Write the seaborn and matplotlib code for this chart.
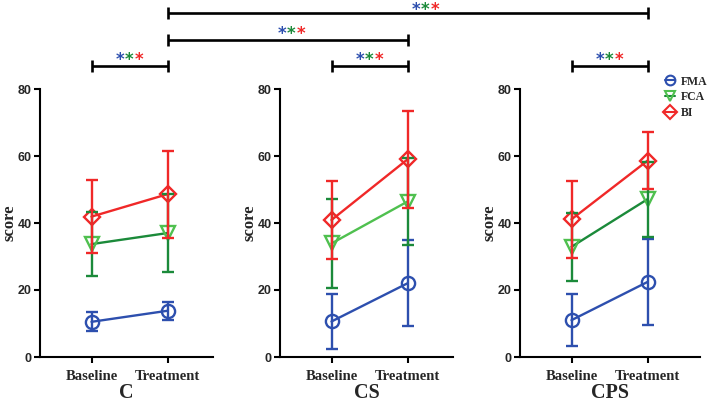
import pandas as pd
import seaborn as sns
import matplotlib.pyplot as plt
from matplotlib.lines import Line2D

times = ["Baseline", "Treatment"]
groups = ["C", "CS", "CPS"]
measures = ["FMA", "FCA", "BI"]

# mean / sd for (Baseline, Treatment)
fma_mean = {"C": [10.5, 13.8], "CS": [10.6, 22.0], "CPS": [11.0, 22.4]}
fma_sd = {"C": [2.8, 2.7], "CS": [8.3, 12.8], "CPS": [7.7, 12.7]}
fca_mean = {"C": [33.7, 37.0], "CS": [33.9, 46.4], "CPS": [32.9, 47.1]}
fca_sd = {"C": [9.6, 11.7], "CS": [13.3, 12.9], "CPS": [10.2, 11.2]}
bi_mean = {"C": [41.9, 48.6], "CS": [40.9, 59.0], "CPS": [41.1, 58.6]}
bi_sd = {"C": [10.9, 13.0], "CS": [11.7, 14.4], "CPS": [11.4, 8.5]}

means = {"FMA": fma_mean, "FCA": fca_mean, "BI": bi_mean}
sds = {"FMA": fma_sd, "FCA": fca_sd, "BI": bi_sd}

blue = "#2d4fae"
dgreen = "#1b8a3a"
lgreen = "#4fc04f"
red = "#f02828"
bar_colors = {"FMA": blue, "FCA": dgreen, "BI": red}
mark_colors = {"FMA": blue, "FCA": lgreen, "BI": red}
markers = {"FMA": "o", "FCA": "v", "BI": "D"}
msizes = {"FMA": 9.5, "FCA": 9.5, "BI": 8}

sns.set_theme(style="ticks")
plt.rcParams["font.family"] = ["Liberation Serif", "DejaVu Serif"]

W, H = 707, 403
fig = plt.figure(figsize=(W / 100, H / 100), dpi=100)

axes_px = [(40, 173), (280, 173), (520, 180)]  # left, width in px
bottom_px, top_px = 357, 89

axes = []
for g, (lx, wx) in zip(groups, axes_px):
    ax = fig.add_axes([lx / W, 1 - bottom_px / H, wx / W, (bottom_px - top_px) / H])
    axes.append(ax)

    rows = []
    for m in measures:
        for i, t in enumerate(times):
            rows.append({"x": i, "score": means[m][g][i], "measure": m})
    df = pd.DataFrame(rows)

    line_pal = {"FMA": blue, "FCA": lgreen if g == "CS" else dgreen, "BI": red}
    sns.lineplot(data=df, x="x", y="score", hue="measure", style="measure",
                 hue_order=measures, style_order=measures, palette=line_pal,
                 markers=markers, dashes=False, linewidth=1.7, markersize=9,
                 markeredgewidth=1.7, mfc="none", legend=False, ax=ax)
    for ln, m in zip(ax.lines, measures):
        ln.set_markeredgecolor(mark_colors[m])
        ln.set_markersize(msizes[m])

    for m in measures:
        ax.errorbar([0, 1], means[m][g], yerr=sds[m][g], fmt="none",
                    ecolor=bar_colors[m], elinewidth=1.7, capsize=4.3,
                    capthick=1.7, clip_on=False)

    unit = 76.0
    ax.set_xlim(-51.5 / unit, (wx - 51.5) / unit)
    ax.set_ylim(0, 80)
    ax.set_yticks([0, 20, 40, 60, 80])
    ax.set_xticks([0, 1])
    ax.set_xticklabels(times, fontsize=10.5, fontweight="bold")
    for lab in ax.get_yticklabels():
        lab.set_fontfamily("Liberation Sans")
        lab.set_fontweight("bold")
        lab.set_fontsize(9)
    ax.set_ylabel("score", fontsize=12, fontweight="bold", labelpad=0)
    ax.set_xlabel(g, fontsize=14.5, fontweight="bold", labelpad=0)
    sns.despine(ax=ax)
    for s in ["left", "bottom"]:
        ax.spines[s].set_linewidth(1.5)
        ax.spines[s].set_color("black")
    ax.tick_params(width=1.5, length=4, color="black", pad=2)
    ax.tick_params(axis="x", pad=5)

# legend
handles = [Line2D([], [], color=bar_colors[m], marker=markers[m], mfc="none",
                  mec=mark_colors[m], mew=1.5, ms=7, lw=1.5) for m in measures]
fig.legend(handles, measures, loc="upper left", bbox_to_anchor=(654 / W, 1 - 65 / H),
           frameon=False, handlelength=0.9, handletextpad=0.5, labelspacing=0.3,
           prop={"family": "Liberation Serif", "weight": "bold", "size": 8.5})

# significance brackets
fig.canvas.draw()


def fig_x(ax, xv):
    d = ax.transData.transform((xv, 0))
    return fig.transFigure.inverted().transform(d)[0]


# (start, end, line y from top in px, star x shift px, star baseline y from top px)
brackets = [((axes[0], 0), (axes[0], 1), 66, 0, 65.5), ((axes[1], 0), (axes[1], 1), 66, 0, 65.5),
            ((axes[2], 0), (axes[2], 1), 66, 0, 65.5), ((axes[0], 1), (axes[1], 1), 39.5, 4, 39),
            ((axes[0], 1), (axes[2], 1), 12.5, 18, 15.5)]
for (a1, x1), (a2, x2), py, shift, sy in brackets:
    fx1, fx2 = fig_x(a1, x1), fig_x(a2, x2)
    fy = 1 - py / H
    tk = 6 / H
    kw = dict(color="black", lw=1.9, solid_capstyle="butt")
    fig.add_artist(Line2D([fx1, fx2], [fy, fy], **kw))
    fig.add_artist(Line2D([fx1, fx1], [fy - tk, fy + tk], **kw))
    fig.add_artist(Line2D([fx2, fx2], [fy - tk, fy + tk], **kw))
    cx = (fx1 + fx2) / 2 + shift / W
    for off, c in zip([-9.5, 0, 9.5], [blue, dgreen, red]):
        fig.text(cx + off / W, 1 - sy / H, "*", color=c, ha="center", va="baseline",
                 fontsize=12, fontweight="bold", family="DejaVu Sans", zorder=5)

fig.savefig("out.png", dpi=100)
